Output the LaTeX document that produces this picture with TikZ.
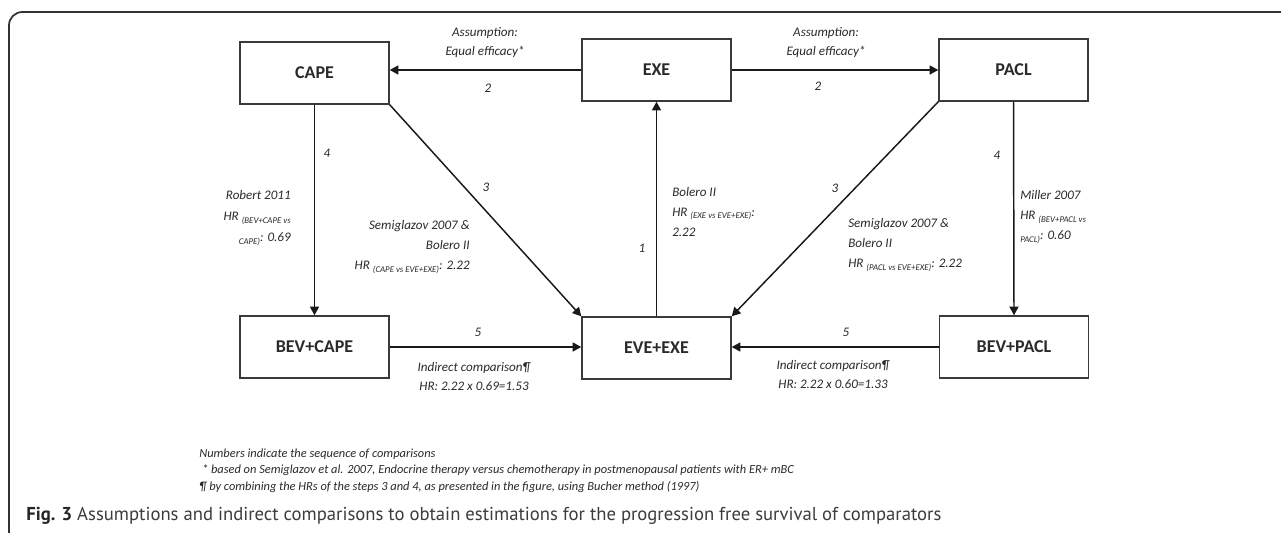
\documentclass[tikz,border=0pt]{standalone}
\usepackage{fontspec}
\setmainfont{Carlito}
\newfontfamily\capfont{PT Sans}
\usetikzlibrary{arrows.meta}
\definecolor{framegray}{HTML}{333333}
\definecolor{boxgray}{HTML}{3A3A3A}
\definecolor{textdark}{HTML}{2A2A2A}
\definecolor{capgray}{HTML}{3C3C3C}
\newcommand\hrs[1]{\raisebox{-0.4ex}{\fontsize{6.6}{7}\selectfont #1}}
\tikzset{
  box/.style={draw=boxgray, line width=1.1pt, minimum width=111.75pt, minimum height=46.5pt,
    inner sep=0pt, font=\fontsize{13.5}{14}\selectfont\bfseries, text=textdark},
  conn/.style={line width=1.1pt, draw=black!90, -{Triangle[length=6.5pt,width=6.8pt]}},
  lab/.style={font=\fontsize{9.8}{15.4}\selectfont\itshape, inner sep=0pt, text=textdark},
  num/.style={font=\fontsize{9.8}{12}\selectfont\itshape, inner sep=0pt, text=textdark},
}
\begin{document}
\begin{tikzpicture}[x=0.75pt,y=-0.75pt]
\useasboundingbox (0,0) rectangle (1281,532);
\clip (0,0) rectangle (1281,532);
\fill[white] (0,0) rectangle (1281,532);
\draw[framegray, line width=1.3pt, rounded corners=10pt] (9,12) rectangle (1320,580);

% boxes
\node[box] (CAPE) at (314.5,73) {CAPE};
\node[box] (EXE) at (656.5,70) {EXE};
\node[box] (PACL) at (1013.5,70) {PACL};
\node[box] (BEVC) at (314.5,347) {BEV+CAPE};
\node[box] (EVE) at (656.5,348) {EVE+EXE};
\node[box] (BEVP) at (1014,347) {BEV+PACL};

% connectors
\draw[conn] (EXE.west) -- (EXE.west -| CAPE.east);
\draw[conn] (EXE.east) -- (PACL.west);
\draw[conn] (CAPE.south) -- (BEVC.north);
\draw[conn] (PACL.south) -- (BEVP.north);
\draw[conn] (CAPE.south east) -- (EVE.north west);
\draw[conn] (PACL.south west) -- (EVE.north east);
\draw[conn] (EVE.north) -- (EXE.south);
\draw[conn] (BEVC.east) -- (BEVC.east -| EVE.west);
\draw[conn] (BEVP.west) -- (BEVP.west -| EVE.east);

% labels top
\node[lab, align=center, font=\fontsize{9.8}{14.25}\selectfont\itshape] (aL) at (485,42.5) {Assumption:\\Equal efficacy*};
\node[num] (n2L) at (488,88) {2};
\node[lab, align=center, font=\fontsize{9.8}{14.25}\selectfont\itshape] (aR) at (826,42.5) {Assumption:\\Equal efficacy*};
\node[num] (n2R) at (818,86) {2};

% left vertical
\node[num] (n4L) at (327,153) {4};
\node[lab, align=right, anchor=east, font=\fontsize{9.8}{15.75}\selectfont\itshape] (robert) at (291,218)
  {Robert 2011\\HR \hrs{(BEV+CAPE vs}\\\hrs{CAPE)}: 0.69};

% left diagonal
\node[num] (n3L) at (486,187) {3};
\node[lab, align=right, anchor=east, font=\fontsize{9.8}{15}\selectfont\itshape] (semiL) at (470,247)
  {Semiglazov 2007 \&\\Bolero II\\HR \hrs{(CAPE vs EVE+EXE)}: 2.22};

% middle vertical
\node[num] (n1) at (642,248) {1};
\node[lab, align=left, anchor=west, font=\fontsize{9.8}{15}\selectfont\itshape] (bolero) at (672,212)
  {Bolero II\\HR \hrs{(EXE vs EVE+EXE)}:\\2.22};

% right diagonal
\node[num] (n3R) at (835,188) {3};
\node[lab, align=left, anchor=west, font=\fontsize{9.8}{15}\selectfont\itshape] (semiR) at (848,245)
  {Semiglazov 2007 \&\\Bolero II\\HR \hrs{(PACL vs EVE+EXE)}: 2.22};

% right vertical
\node[num] (n4R) at (997,155) {4};
\node[lab, align=left, anchor=west, font=\fontsize{9.8}{15}\selectfont\itshape] (miller) at (1020,217)
  {Miller 2007\\HR \hrs{(BEV+PACL vs}\\\hrs{PACL)}: 0.60};

% bottom
\node[num] (n5L) at (478,332) {5};
\node[lab, align=center, font=\fontsize{9.8}{14.25}\selectfont\itshape] (indL) at (474,376.5)
  {Indirect comparison¶\\HR: 2.22 x 0.69=1.53};
\node[num] (n5R) at (846,332) {5};
\node[lab, align=center, font=\fontsize{9.8}{14.25}\selectfont\itshape] (indR) at (833,375)
  {Indirect comparison¶\\HR: 2.22 x 0.60=1.33};

% footnotes
\node[lab, align=left, anchor=west, font=\fontsize{9.3}{12.4}\selectfont\itshape] (foot) at (199,470.5)
  {Numbers indicate the sequence of comparisons\\
   \ * based on Semiglazov et al. 2007, Endocrine therapy versus chemotherapy in postmenopausal patients with ER+ mBC\\
   ¶ by combining the HRs of the steps 3 and 4, as presented in the figure, using Bucher method (1997)};

% caption
\node[anchor=base west, inner sep=0pt, text=capgray, font=\capfont\fontsize{14}{16}\selectfont] (cap) at (26,520)
  {\textbf{\color{black!85}Fig. 3} Assumptions and indirect comparisons to obtain estimations for the progression free survival of comparators};
\end{tikzpicture}
\end{document}
